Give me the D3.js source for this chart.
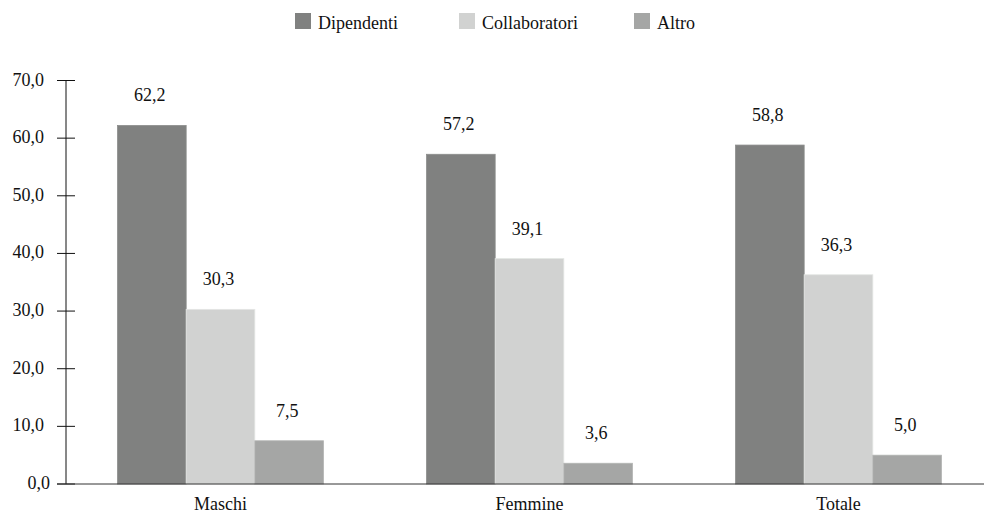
<!DOCTYPE html>
<html>
<head>
<meta charset="utf-8">
<script src="https://cdn.jsdelivr.net/npm/d3@7"></script>
</head>
<body style="margin:0; background:#fff">
<svg id="chart" width="984" height="515" font-family="Liberation Serif" font-size="18"></svg>
<script>
// Categories, series and values
const categories = ["Maschi", "Femmine", "Totale"];
const seriesNames = ["Dipendenti", "Collaboratori", "Altro"];
const dipendenti = [62.2, 57.2, 58.8];
const collaboratori = [30.3, 39.1, 36.3];
const altro = [7.5, 3.6, 5.0];
const yTicks = [0, 10, 20, 30, 40, 50, 60, 70];

const seriesValues = [dipendenti, collaboratori, altro];
const colors = ["#808180", "#d1d2d1", "#a5a6a5"];
const fmt = v => v.toFixed(1).replace(".", ",");
const FONT = "Liberation Serif";

const svg = d3.select("#chart");
const axisX = 66, baseY = 484, topY = 80.5;

const y = d3.scaleLinear().domain([0, 70]).range([baseY, topY]);
const x0 = d3.scaleBand().domain(categories).range([axisX, 993])
  .paddingInner(1 / 3).paddingOuter(1 / 6);
const x1 = d3.scaleBand().domain(seriesNames).range([0, x0.bandwidth()]);

// Legend
const legendX = [295, 459, 634];
const legend = svg.append("g");
seriesNames.forEach((name, i) => {
  legend.append("rect").attr("x", legendX[i]).attr("y", 13)
    .attr("width", 16).attr("height", 16).attr("fill", colors[i]);
  legend.append("text").attr("x", legendX[i] + 23).attr("y", 29)
    .attr("font-family", FONT).attr("font-size", 18)
    .attr("fill", "#111").text(name);
});

// Bars and value labels
const groups = svg.append("g").selectAll("g").data(categories).join("g")
  .attr("transform", d => `translate(${x0(d)},0)`);

groups.each(function (cat, ci) {
  const g = d3.select(this);
  seriesNames.forEach((s, si) => {
    const v = seriesValues[si][ci];
    g.append("rect")
      .attr("x", x1(s)).attr("y", y(v))
      .attr("width", x1.bandwidth()).attr("height", baseY - y(v))
      .attr("fill", colors[si])
      .attr("stroke", d3.color(colors[si]).brighter(0.25)).attr("stroke-width", 0.8);
    g.append("text")
      .attr("x", x1(s) + x1.bandwidth() / 2 - 2).attr("y", y(v) - 24)
      .attr("text-anchor", "middle").attr("font-family", FONT).attr("font-size", 18)
      .attr("fill", "#111")
      .text(fmt(v));
  });
});

// Y axis
const yAxis = svg.append("g");
yAxis.append("line").attr("x1", axisX).attr("x2", axisX)
  .attr("y1", topY).attr("y2", baseY).attr("stroke", "#111").attr("stroke-width", 1);
yTicks.forEach(t => {
  yAxis.append("line").attr("x1", axisX - 9).attr("x2", axisX + 9)
    .attr("y1", y(t)).attr("y2", y(t)).attr("stroke", "#111").attr("stroke-width", 1);
  yAxis.append("text").attr("x", t === 0 ? 50 : 44).attr("y", y(t) + 5)
    .attr("text-anchor", "end").attr("font-family", FONT).attr("font-size", 18)
    .attr("fill", "#111")
    .text(fmt(t));
});

// Baseline and category labels
svg.append("line").attr("x1", axisX - 9).attr("x2", 984)
  .attr("y1", baseY).attr("y2", baseY).attr("stroke", "#333").attr("stroke-width", 1);
svg.append("g").selectAll("text").data(categories).join("text")
  .attr("x", d => x0(d) + x0.bandwidth() / 2).attr("y", 510)
  .attr("text-anchor", "middle").attr("font-family", FONT).attr("font-size", 18)
  .attr("fill", "#111")
  .text(d => d);
</script>
</body>
</html>
